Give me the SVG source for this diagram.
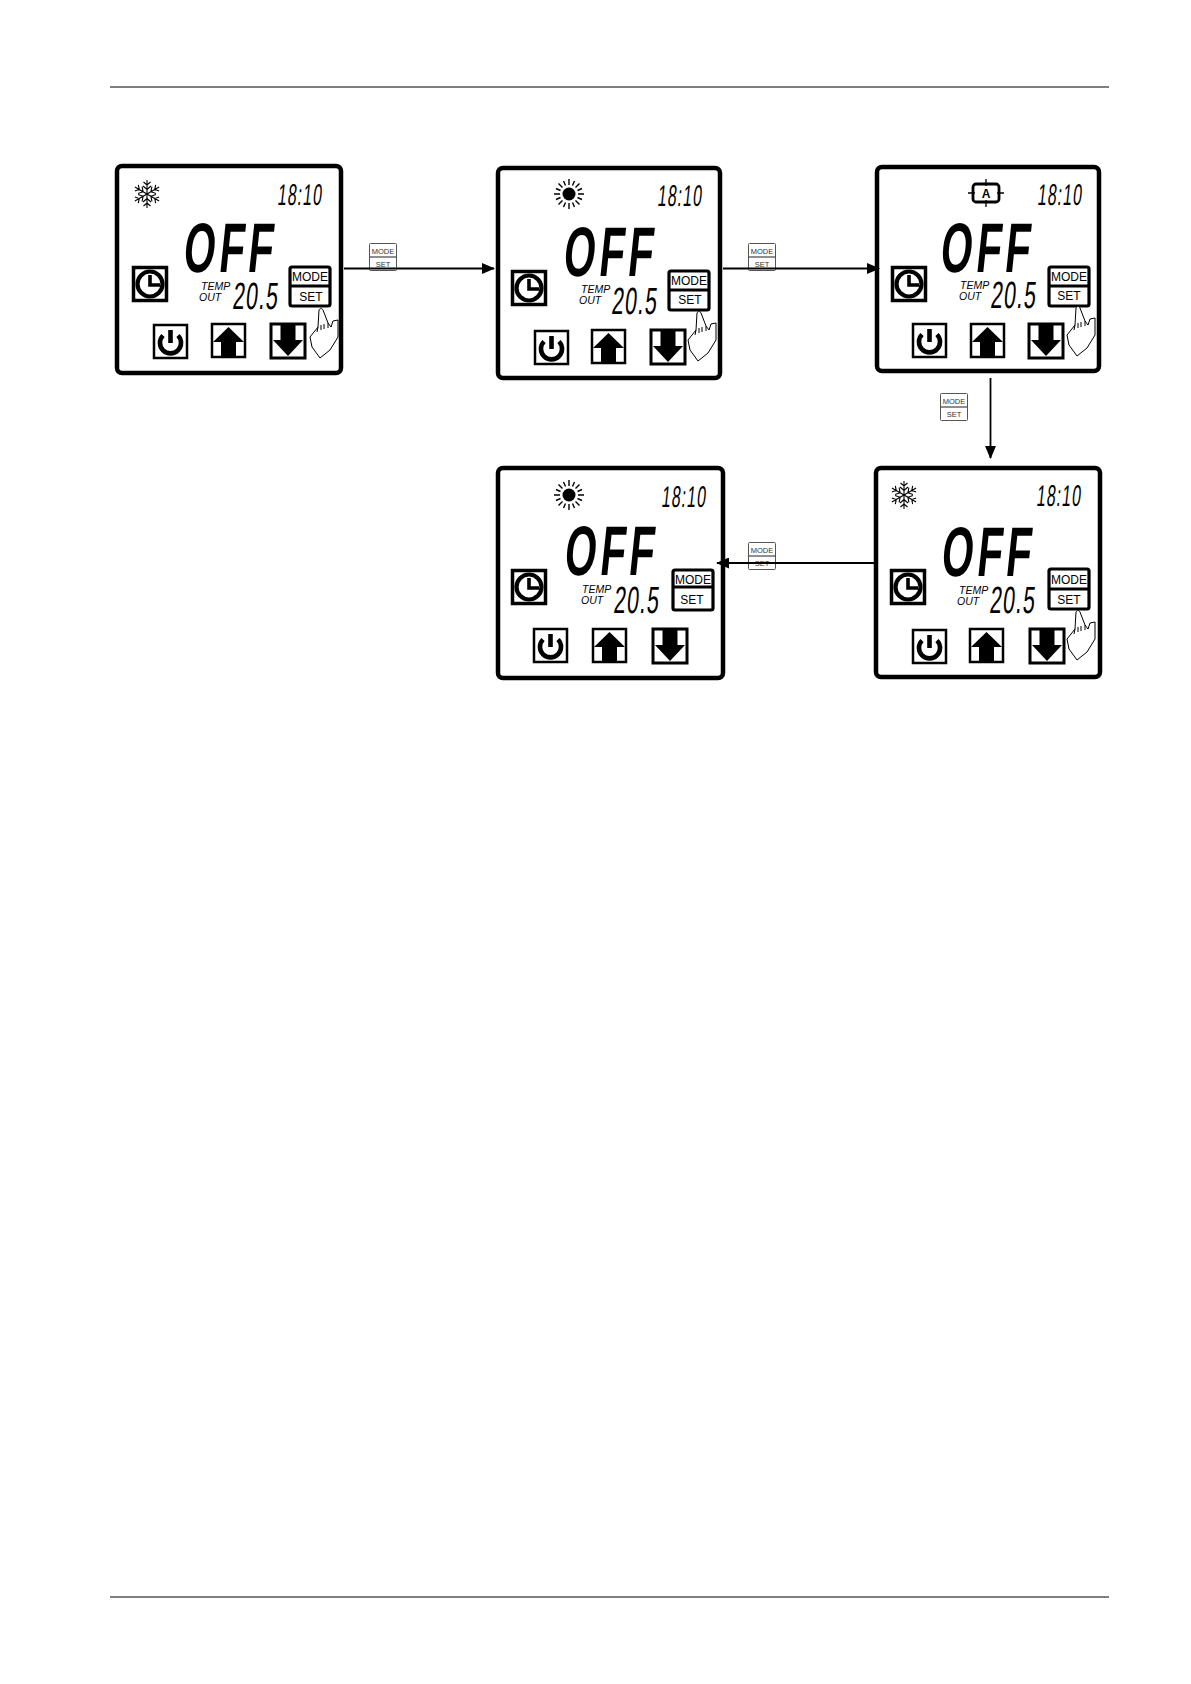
<svg xmlns="http://www.w3.org/2000/svg" width="1191" height="1684" viewBox="0 0 1191 1684">
<style>
text{font-family:"Liberation Sans",Arial,sans-serif;fill:#000}
.panel{fill:#fff;stroke:#000;stroke-width:4.5}
.off{font-size:70px;font-weight:700;letter-spacing:7px}
.time{font-size:30px;letter-spacing:2px}
.val{font-size:38px;letter-spacing:2px}
.lab{font-size:10.5px;font-style:italic}
.mode{font-size:12px;text-anchor:middle}
.sm{font-size:7.500px;text-anchor:middle;fill:#333}
.box{fill:#fff;stroke:#000;stroke-width:2.500}
.mb{fill:#fff;stroke:#000;stroke-width:3.200}
.ib{fill:#fff;stroke:#555;stroke-width:1}
.hand{fill:#fff;stroke:#000;stroke-width:1;stroke-linejoin:round}
.conn{stroke:#000;stroke-width:1.800;fill:none;marker-end:url(#ah)}
</style>
<defs>
<marker id="ah" markerUnits="userSpaceOnUse" markerWidth="13" markerHeight="11" refX="12" refY="5.500" orient="auto"><path d="M0 0L13 5.500L0 11Z" fill="#000"/></marker>
<g id="clock"><rect class="box" x="1.500" y="1.500" width="33" height="33" style="stroke-width:3.500"/><circle cx="18" cy="18" r="12.500" fill="none" stroke="#000" stroke-width="4.200"/><path d="M18 9V19H28" fill="none" stroke="#000" stroke-width="3.600"/></g>
<g id="power"><rect class="box" x="1" y="1" width="33" height="33"/><path d="M10 11.500A10.500 10.500 0 1 0 25 11.500" fill="none" stroke="#000" stroke-width="4.600"/><path d="M17.500 6V19" stroke="#000" stroke-width="4.600"/></g>
<g id="up"><rect class="box" x="1" y="1" width="33" height="33"/><path d="M17.500 4L33 19H25V33H10V19H2Z"/></g>
<g id="down"><rect class="box" x="1" y="1" width="34" height="34" style="stroke-width:3"/><path d="M10.500 2H25.500V17H33L18 33L3 17H10.500Z"/></g>
<g id="hand"><path class="hand" d="M-1 1C0 -1 2 -1 3 1L8 14L11 18L13 12L18 11L18 28L10 41L0 49L-8 38L-10 28L-2 18Z"/><path class="hand" d="M-2 18L-3 23M1 16L1 21M4 15L4 20M8 14L8 19" fill="none"/></g>
<g id="snow" stroke="#000" stroke-width="1.100" fill="none"><g id="ar"><path d="M0 -14V14M-3.500 -12L0 -9L3.500 -12M-3.500 12L0 9L3.500 12M-4 -8L0 -4.500L4 -8M-4 8L0 4.500L4 8"/></g><use href="#ar" transform="rotate(60)"/><use href="#ar" transform="rotate(120)"/></g>
<g id="sun"><circle r="6.500"/><path stroke="#000" stroke-width="1.400" d="M0 -15V-9M0 15V9M-15 0H-9M15 0H9M-10.500 -10.500L-6.500 -6.500M10.500 -10.500L6.500 -6.500M-10.500 10.500L-6.500 6.500M10.500 10.500L6.500 6.500M-5.500 -13L-3.500 -8.500M5.500 -13L3.500 -8.500M-5.500 13L-3.500 8.500M5.500 13L3.500 8.500M-13 -5.500L-8.500 -3.500M13 -5.500L8.500 -3.500M-13 5.500L-8.500 3.500M13 5.500L8.500 3.500"/></g>
<g id="modeicon"><rect class="ib" x="0.500" y="0.500" width="27" height="27" rx="1"/><path d="M.5 14H27.500" stroke="#444" stroke-width="1.200"/><text class="sm" x="14" y="10.500">MODE</text><text class="sm" x="14" y="24">SET</text></g>
</defs>

<g id="frame"><path d="M110 87H1109M110 1597H1109" stroke="#000" stroke-width="1"/></g>

<g id="panel-cool-1">
<rect class="panel" x="117" y="166" width="224" height="207" rx="5"/>
<use href="#snow" x="147" y="194"/>
<text class="time" transform="translate(277 205) skewX(-6) scale(.53 1)">18:10</text>
<text class="off" transform="translate(182 272) skewX(-6) scale(.58 1)">OFF</text>
<use href="#clock" x="132" y="266"/>
<text class="lab" x="201" y="290">TEMP</text><text class="lab" x="199" y="301">OUT</text>
<text class="val" transform="translate(232 309) skewX(-6) scale(.56 1)">20.5</text>
<rect class="mb" x="290" y="267" width="40" height="39" rx="2"/><path d="M290 286H330" stroke="#000" stroke-width="3"/><text class="mode" x="310" y="281">MODE</text><text class="mode" x="311" y="301">SET</text>
<use href="#power" x="153" y="324"/><use href="#up" x="211" y="323"/><use href="#down" x="270" y="323"/>
<use href="#hand" x="320" y="309"/>
</g>

<g id="panel-heat-1">
<rect class="panel" x="498" y="168" width="222" height="210" rx="5"/>
<use href="#sun" x="569" y="194"/>
<text class="time" transform="translate(657 206) skewX(-6) scale(.53 1)">18:10</text>
<text class="off" transform="translate(562 276) skewX(-6) scale(.58 1)">OFF</text>
<use href="#clock" x="511" y="270"/>
<text class="lab" x="581" y="293">TEMP</text><text class="lab" x="579" y="304">OUT</text>
<text class="val" transform="translate(611 314) skewX(-6) scale(.56 1)">20.5</text>
<rect class="mb" x="669" y="271" width="40" height="39" rx="2"/><path d="M669 290H709" stroke="#000" stroke-width="3"/><text class="mode" x="689" y="285">MODE</text><text class="mode" x="690" y="304">SET</text>
<use href="#power" x="534" y="330"/><use href="#up" x="591" y="329"/><use href="#down" x="650" y="329"/>
<use href="#hand" x="698" y="312"/>
</g>

<g id="panel-auto">
<rect class="panel" x="877" y="167" width="222" height="204" rx="5"/>
<g id="auto-icon"><rect x="973" y="184" width="26" height="18" rx="3" fill="#fff" stroke="#000" stroke-width="2.800"/><path d="M986 179V186M986 200V207M968 193H975M997 193H1004" stroke="#000" stroke-width="1.300"/><text x="986" y="198" font-size="12" font-weight="700" text-anchor="middle">A</text></g>
<text class="time" transform="translate(1037 205) skewX(-6) scale(.53 1)">18:10</text>
<text class="off" transform="translate(939 272) skewX(-6) scale(.58 1)">OFF</text>
<use href="#clock" x="891" y="266"/>
<text class="lab" x="960" y="289">TEMP</text><text class="lab" x="959" y="300">OUT</text>
<text class="val" transform="translate(990 308) skewX(-6) scale(.56 1)">20.5</text>
<rect class="mb" x="1049" y="267" width="40" height="39" rx="2"/><path d="M1049 286H1089" stroke="#000" stroke-width="3"/><text class="mode" x="1069" y="281">MODE</text><text class="mode" x="1069" y="300">SET</text>
<use href="#power" x="912" y="323"/><use href="#up" x="970" y="323"/><use href="#down" x="1028" y="323"/>
<use href="#hand" x="1077" y="307"/>
</g>

<g id="panel-cool-2">
<rect class="panel" x="876" y="468" width="224" height="209" rx="5"/>
<use href="#snow" x="904" y="495"/>
<text class="time" transform="translate(1036 506) skewX(-6) scale(.53 1)">18:10</text>
<text class="off" transform="translate(940 576) skewX(-6) scale(.58 1)">OFF</text>
<use href="#clock" x="890" y="569"/>
<text class="lab" x="959" y="594">TEMP</text><text class="lab" x="957" y="605">OUT</text>
<text class="val" transform="translate(989 613) skewX(-6) scale(.56 1)">20.5</text>
<rect class="mb" x="1049" y="569" width="40" height="40" rx="2"/><path d="M1049 589H1089" stroke="#000" stroke-width="3"/><text class="mode" x="1069" y="584">MODE</text><text class="mode" x="1069" y="604">SET</text>
<use href="#power" x="912" y="629"/><use href="#up" x="969" y="628"/><use href="#down" x="1029" y="628"/>
<use href="#hand" x="1077" y="611"/>
</g>

<g id="panel-heat-2">
<rect class="panel" x="498" y="468" width="225" height="210" rx="5"/>
<use href="#sun" x="569" y="495"/>
<text class="time" transform="translate(661 507) skewX(-6) scale(.53 1)">18:10</text>
<text class="off" transform="translate(563 575) skewX(-6) scale(.58 1)">OFF</text>
<use href="#clock" x="511" y="569"/>
<text class="lab" x="582" y="593">TEMP</text><text class="lab" x="581" y="604">OUT</text>
<text class="val" transform="translate(613 613) skewX(-6) scale(.56 1)">20.5</text>
<rect class="mb" x="673" y="570" width="40" height="40" rx="2"/><path d="M673 587H713" stroke="#000" stroke-width="3"/><text class="mode" x="693" y="584">MODE</text><text class="mode" x="692" y="604">SET</text>
<use href="#power" x="533" y="628"/><use href="#up" x="592" y="628"/><use href="#down" x="652" y="628"/>
</g>

<g id="mode-icons">
<use href="#modeicon" x="369" y="243"/>
<use href="#modeicon" x="748" y="243"/>
<use href="#modeicon" x="940" y="393"/>
<use href="#modeicon" x="748" y="542"/>
</g>

<g id="connectors">
<path class="conn" d="M344 268.500H494"/>
<path class="conn" d="M723 268.500H879"/>
<path class="conn" d="M990.500 378V458"/>
<path class="conn" d="M875 563H717"/>
</g>
</svg>
